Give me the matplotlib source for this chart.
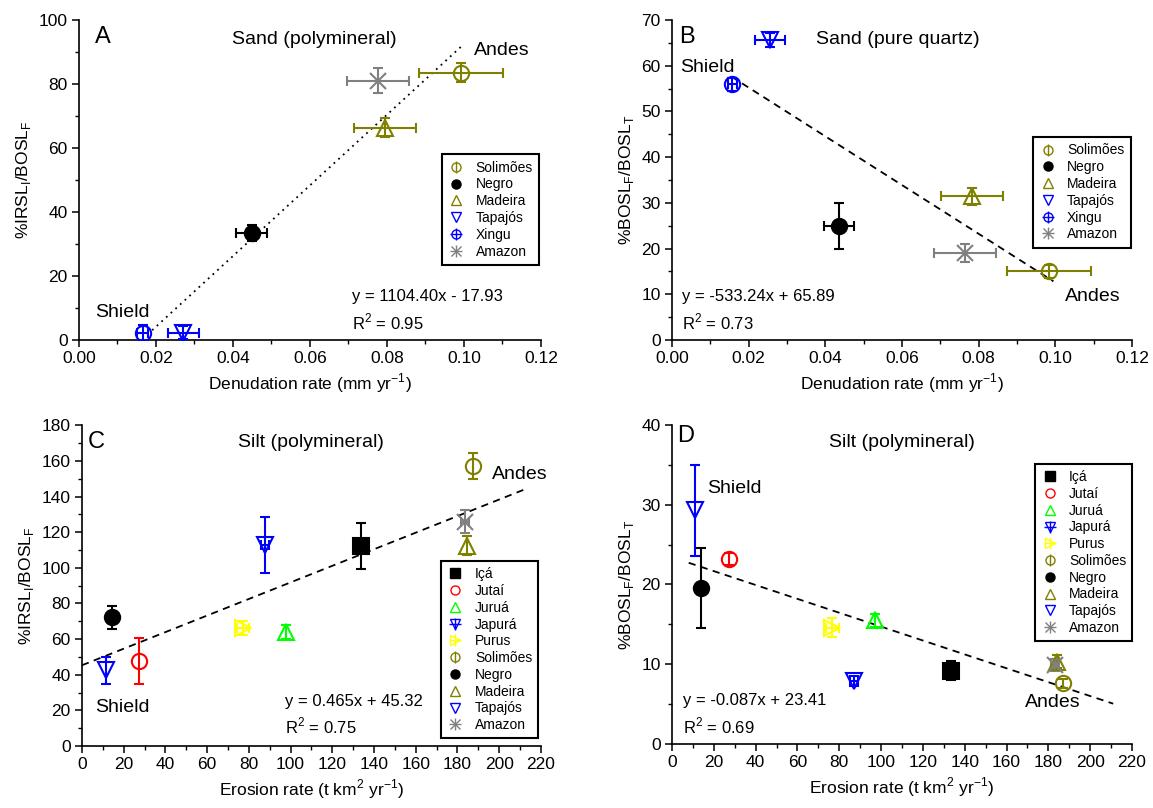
import numpy as np
import matplotlib
matplotlib.use("Agg")
import matplotlib.pyplot as plt
from matplotlib.lines import Line2D
from matplotlib.legend_handler import HandlerTuple
from matplotlib.ticker import MultipleLocator, FormatStrFormatter

plt.rcParams['font.family'] = ['Liberation Sans', 'DejaVu Sans']
plt.rcParams['mathtext.fontset'] = 'custom'
plt.rcParams['mathtext.rm'] = 'Liberation Sans'

# ---- data ----
# Panel A: sand, polymineral, %IRSL/BOSL vs denudation rate
a_names = ['Solimões', 'Negro', 'Madeira', 'Tapajós', 'Xingu', 'Amazon']
a_x = [0.0992, 0.0449, 0.0795, 0.0271, 0.0165, 0.0776]
a_xerr = [0.011, 0.004, 0.008, 0.004, 0.0015, 0.008]
a_y = [83.6, 33.3, 66.3, 2.3, 2.1, 81.1]
a_yerr = [3.0, 2.5, 3.0, 2.0, 2.5, 4.0]

# Panel B: sand, pure quartz, %BOSL_F/BOSL_T vs denudation rate
b_names = ['Solimões', 'Negro', 'Madeira', 'Tapajós', 'Xingu', 'Amazon']
b_x = [0.0984, 0.0436, 0.0783, 0.0256, 0.0157, 0.0764]
b_xerr = [0.011, 0.004, 0.008, 0.004, 0.0012, 0.008]
b_y = [15.0, 24.9, 31.4, 65.6, 55.9, 19.0]
b_yerr = [1.5, 5.0, 1.8, 1.5, 1.5, 2.0]

# Panel C: silt, %IRSL/BOSL vs erosion rate
c_names = ['Içá', 'Jutaí', 'Juruá', 'Japurá', 'Purus', 'Solimões',
           'Negro', 'Madeira', 'Tapajós', 'Amazon']
c_x = [134.0, 27.5, 97.6, 87.7, 77.3, 187.6, 14.5, 184.4, 11.5, 183.6]
c_xerr = [0, 0, 0, 2.0, 3.0, 0, 0, 0, 0, 2.0]
c_y = [112.3, 47.8, 64.1, 112.7, 66.4, 157.0, 72.2, 112.3, 42.5, 125.8]
c_yerr = [13.0, 13.0, 4.0, 15.8, 4.0, 7.2, 6.5, 5.3, 7.5, 6.5]

# Panel D: silt, %BOSL_F/BOSL_T vs erosion rate
d_names = c_names
d_x = [133.4, 27.1, 96.9, 87.0, 76.7, 186.8, 14.0, 184.0, 11.1, 183.2]
d_xerr = [0, 0, 0, 2.0, 3.0, 0, 0, 0, 0, 2.0]
d_y = [9.2, 23.2, 15.5, 7.9, 14.6, 7.6, 19.6, 10.3, 29.3, 9.9]
d_yerr = [1.2, 0.8, 0.8, 0.6, 1.2, 0.6, 5.0, 0.8, 5.7, 0.8]

# linear fits printed on the figure
fits = {
    'A': (1104.40, -17.93, 0.019, 0.0995),
    'B': (-533.24, 65.89, 0.0155, 0.0995),
    'C': (0.465, 45.32, 0.0, 212.0),
    'D': (-0.087, 23.41, 8.0, 211.0),
}

OLIVE = '#808000'
styles = {
    'Solimões': ('o', OLIVE, False, '|'),
    'Negro': ('o', 'black', True, None),
    'Madeira': ('^', OLIVE, False, None),
    'Tapajós': ('v', '#0000ff', False, None),
    'Xingu': ('o', '#0000ff', False, '+'),
    'Amazon': ('x', '#808080', False, '+'),
    'Içá': ('s', 'black', True, None),
    'Jutaí': ('o', '#ff0000', False, None),
    'Juruá': ('^', '#00ff00', False, None),
    'Japurá': ('v', '#0000ff', False, '+'),
    'Purus': ('>', '#ffff00', False, '+'),
}

TICK_FS = 12.5
LABEL_FS = 12.5
TITLE_FS = 14
LETTER_FS = 17
REGION_FS = 14
EQ_FS = 12


def draw_points(ax, names, xs, xerrs, ys, yerrs, ms=11, cap=3.5):
    for n, x, xe, y, ye in zip(names, xs, xerrs, ys, yerrs):
        mk, col, filled, _ = styles[n]
        ax.errorbar(x, y, xerr=xe if xe else None, yerr=ye if ye else None,
                    fmt=mk, ms=ms, mfc=col if filled else 'none', mec=col,
                    mew=1.5, ecolor=col, elinewidth=1.5, capsize=cap,
                    capthick=1.5, zorder=3)


def add_legend(ax, names, anchor):
    handles = []
    for n in names:
        mk, col, filled, extra = styles[n]
        h = Line2D([], [], ls='none', marker=mk, ms=6.5, mew=1.0, color=col,
                   mfc=col if filled else 'none', mec=col)
        if extra:
            h2 = Line2D([], [], ls='none', marker=extra, ms=8.5, mew=1.0, color=col)
            h = (h, h2)
        handles.append(h)
    leg = ax.legend(handles, names, loc='upper left', bbox_to_anchor=anchor,
                    borderaxespad=0, fontsize=10, handlelength=1.2,
                    handletextpad=0.8, labelspacing=0.2, borderpad=0.45,
                    fancybox=False, framealpha=1,
                    handler_map={tuple: HandlerTuple(ndivide=1)})
    leg.get_frame().set_edgecolor('black')
    leg.get_frame().set_linewidth(1.5)


def style_axes(ax):
    for s in ['top', 'right']:
        ax.spines[s].set_visible(False)
    for s in ['left', 'bottom']:
        ax.spines[s].set_linewidth(1.2)
    ax.tick_params(which='major', direction='out', length=5, width=1.1,
                   labelsize=TICK_FS, pad=3)
    ax.tick_params(which='minor', direction='out', length=3, width=1.0)


fig = plt.figure(figsize=(11.53, 8.08), dpi=100)
axA = fig.add_axes([0.0685, 0.5792, 0.4007, 0.396])
axB = fig.add_axes([0.5828, 0.5792, 0.399, 0.396])
axC = fig.add_axes([0.0711, 0.0767, 0.398, 0.397])
axD = fig.add_axes([0.5828, 0.0792, 0.399, 0.395])

# Panel A
draw_points(axA, a_names, a_x, a_xerr, a_y, a_yerr)
m, c, x0, x1 = fits['A']
xx = np.array([x0, x1])
axA.plot(xx, m * xx + c, ls=(0, (1, 2.5)), color='black', lw=1.3, zorder=2)
axA.set_xlim(0, 0.12)
axA.set_ylim(0, 100)
axA.xaxis.set_major_locator(MultipleLocator(0.02))
axA.xaxis.set_minor_locator(MultipleLocator(0.01))
axA.xaxis.set_major_formatter(FormatStrFormatter('%.2f'))
axA.yaxis.set_major_locator(MultipleLocator(20))
axA.yaxis.set_minor_locator(MultipleLocator(10))
axA.set_xlabel('Denudation rate (mm yr$^{\\mathregular{-1}}$)', fontsize=LABEL_FS)
axA.set_ylabel('%IRSL$_{\\mathregular{I}}$/BOSL$_{\\mathregular{F}}$', fontsize=LABEL_FS)
axA.text(0.035, 0.948, 'A', transform=axA.transAxes, fontsize=LETTER_FS, va='center')
axA.text(0.51, 0.94, 'Sand (polymineral)', transform=axA.transAxes,
         fontsize=TITLE_FS, ha='center', va='center')
axA.text(0.915, 0.905, 'Andes', transform=axA.transAxes, fontsize=REGION_FS,
         ha='center', va='center')
axA.text(0.093, 0.085, 'Shield', transform=axA.transAxes, fontsize=REGION_FS,
         ha='center', va='center')
axA.text(0.592, 0.135, 'y = 1104.40x - 17.93', transform=axA.transAxes,
         fontsize=EQ_FS, va='center')
axA.text(0.592, 0.057, 'R$^{\\mathregular{2}}$ = 0.95', transform=axA.transAxes,
         fontsize=EQ_FS, va='center')
add_legend(axA, a_names, (0.785, 0.58))
style_axes(axA)

# Panel B
draw_points(axB, b_names, b_x, b_xerr, b_y, b_yerr)
m, c, x0, x1 = fits['B']
xx = np.array([x0, x1])
axB.plot(xx, m * xx + c, ls=(0, (4, 3)), color='black', lw=1.3, zorder=2)
axB.set_xlim(0, 0.12)
axB.set_ylim(0, 70)
axB.xaxis.set_major_locator(MultipleLocator(0.02))
axB.xaxis.set_minor_locator(MultipleLocator(0.01))
axB.xaxis.set_major_formatter(FormatStrFormatter('%.2f'))
axB.yaxis.set_major_locator(MultipleLocator(10))
axB.yaxis.set_minor_locator(MultipleLocator(5))
axB.set_xlabel('Denudation rate (mm yr$^{\\mathregular{-1}}$)', fontsize=LABEL_FS)
axB.set_ylabel('%BOSL$_{\\mathregular{F}}$/BOSL$_{\\mathregular{T}}$', fontsize=LABEL_FS)
axB.text(0.015, 0.948, 'B', transform=axB.transAxes, fontsize=LETTER_FS, va='center')
axB.text(0.49, 0.94, 'Sand (pure quartz)', transform=axB.transAxes,
         fontsize=TITLE_FS, ha='center', va='center')
axB.text(0.915, 0.135, 'Andes', transform=axB.transAxes, fontsize=REGION_FS,
         ha='center', va='center')
axB.text(0.078, 0.852, 'Shield', transform=axB.transAxes, fontsize=REGION_FS,
         ha='center', va='center')
axB.text(0.022, 0.135, 'y = -533.24x + 65.89', transform=axB.transAxes,
         fontsize=EQ_FS, va='center')
axB.text(0.022, 0.057, 'R$^{\\mathregular{2}}$ = 0.73', transform=axB.transAxes,
         fontsize=EQ_FS, va='center')
add_legend(axB, b_names, (0.785, 0.634))
style_axes(axB)

# Panel C
draw_points(axC, c_names, c_x, c_xerr, c_y, c_yerr)
m, c, x0, x1 = fits['C']
xx = np.array([x0, x1])
axC.plot(xx, m * xx + c, ls=(0, (4, 3)), color='black', lw=1.3, zorder=2)
axC.set_xlim(0, 220)
axC.set_ylim(0, 180)
axC.xaxis.set_major_locator(MultipleLocator(20))
axC.xaxis.set_minor_locator(MultipleLocator(10))
axC.yaxis.set_major_locator(MultipleLocator(20))
axC.yaxis.set_minor_locator(MultipleLocator(10))
axC.set_xlabel('Erosion rate (t km$^{\\mathregular{2}}$ yr$^{\\mathregular{-1}}$)', fontsize=LABEL_FS)
axC.set_ylabel('%IRSL$_{\\mathregular{I}}$/BOSL$_{\\mathregular{F}}$', fontsize=LABEL_FS)
axC.text(0.012, 0.948, 'C', transform=axC.transAxes, fontsize=LETTER_FS, va='center')
axC.text(0.5, 0.945, 'Silt (polymineral)', transform=axC.transAxes,
         fontsize=TITLE_FS, ha='center', va='center')
axC.text(0.955, 0.845, 'Andes', transform=axC.transAxes, fontsize=REGION_FS,
         ha='center', va='center')
axC.text(0.087, 0.12, 'Shield', transform=axC.transAxes, fontsize=REGION_FS,
         ha='center', va='center')
axC.text(0.442, 0.14, 'y = 0.465x + 45.32', transform=axC.transAxes,
         fontsize=EQ_FS, va='center')
axC.text(0.442, 0.062, 'R$^{\\mathregular{2}}$ = 0.75', transform=axC.transAxes,
         fontsize=EQ_FS, va='center')
add_legend(axC, c_names, (0.782, 0.577))
style_axes(axC)

# Panel D
draw_points(axD, d_names, d_x, d_xerr, d_y, d_yerr)
m, c, x0, x1 = fits['D']
xx = np.array([x0, x1])
axD.plot(xx, m * xx + c, ls=(0, (4, 3)), color='black', lw=1.3, zorder=2)
axD.set_xlim(0, 220)
axD.set_ylim(0, 40)
axD.xaxis.set_major_locator(MultipleLocator(20))
axD.xaxis.set_minor_locator(MultipleLocator(10))
axD.yaxis.set_major_locator(MultipleLocator(10))
axD.yaxis.set_minor_locator(MultipleLocator(5))
axD.set_xlabel('Erosion rate (t km$^{\\mathregular{2}}$ yr$^{\\mathregular{-1}}$)', fontsize=LABEL_FS)
axD.set_ylabel('%BOSL$_{\\mathregular{F}}$/BOSL$_{\\mathregular{T}}$', fontsize=LABEL_FS)
axD.text(0.012, 0.965, 'D', transform=axD.transAxes, fontsize=LETTER_FS, va='center')
axD.text(0.5, 0.945, 'Silt (polymineral)', transform=axD.transAxes,
         fontsize=TITLE_FS, ha='center', va='center')
axD.text(0.828, 0.13, 'Andes', transform=axD.transAxes, fontsize=REGION_FS,
         ha='center', va='center')
axD.text(0.135, 0.801, 'Shield', transform=axD.transAxes, fontsize=REGION_FS,
         ha='center', va='center')
axD.text(0.024, 0.135, 'y = -0.087x + 23.41', transform=axD.transAxes,
         fontsize=EQ_FS, va='center')
axD.text(0.024, 0.057, 'R$^{\\mathregular{2}}$ = 0.69', transform=axD.transAxes,
         fontsize=EQ_FS, va='center')
add_legend(axD, d_names, (0.789, 0.878))
style_axes(axD)

fig.savefig('out.png', dpi=100)
